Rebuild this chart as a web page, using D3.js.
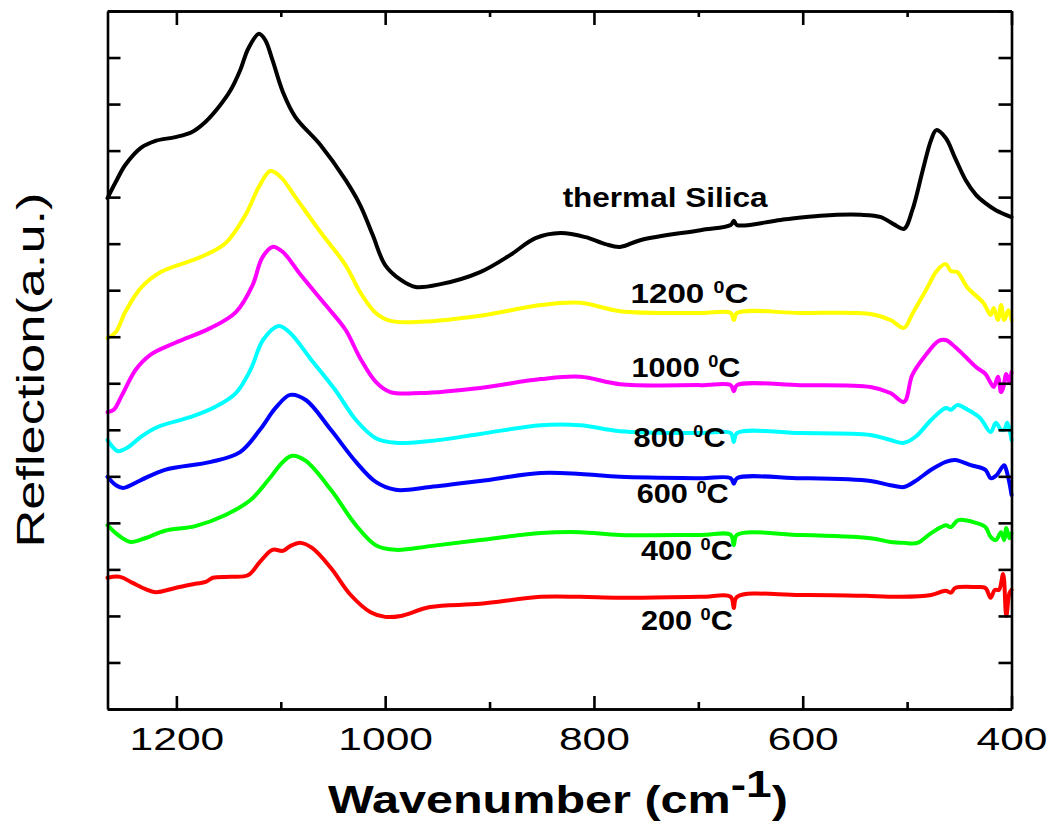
<!DOCTYPE html>
<html><head><meta charset="utf-8">
<script src="https://cdn.jsdelivr.net/npm/d3@7"></script>
<style>body{margin:0;background:#fff} svg{display:block} text{font-family:"Liberation Sans",Arial,sans-serif}</style>
</head><body>
<svg id="c" width="1050" height="828"></svg>
<script>
// ---------- data ----------
const xTicksMajor = [1200, 1000, 800, 600, 400];
const xTicksMinor = [1100, 900, 700, 500];
const yTicks = d3.range(0, 16);
const seriesLabels = ["thermal Silica", "1200", "1000", "800", "600", "400", "200"];
const seriesColors = ["#000000", "#ffff00", "#ff00ff", "#00ffff", "#0000ff", "#00ff00", "#ff0000"];

// [wavenumber (cm-1), reflection (a.u.)]
const thermalSilica = [[1266,10.98],[1258,11.33],[1249,11.69],[1234,12.06],[1220,12.21],[1201,12.29],[1185,12.40],[1172,12.62],[1160,12.92],[1148,13.30],[1139,13.72],[1131,14.20],[1121,14.51],[1115,14.38],[1108,13.95],[1098,13.26],[1086,12.72],[1062,12.12],[1038,11.37],[1024,10.83],[1012,10.19],[1000,9.54],[985,9.22],[971,9.07],[947,9.13],[909,9.39],[880,9.76],[856,10.12],[832,10.23],[808,10.14],[789,9.99],[775,9.93],[755,10.08],[698,10.29],[669,10.40],[666,10.49],[663,10.40],[621,10.51],[583,10.60],[544,10.62],[525,10.57],[513,10.42],[503,10.32],[495,10.72],[485,11.58],[477,12.23],[472,12.44],[463,12.27],[454,11.84],[444,11.37],[434,11.05],[425,10.87],[415,10.72],[400,10.57]];
const t1200 = [[1266,7.97],[1258,8.10],[1249,8.53],[1234,9.05],[1215,9.39],[1177,9.71],[1153,10.01],[1134,10.61],[1121,11.22],[1110,11.56],[1100,11.43],[1086,11.00],[1062,10.25],[1038,9.54],[1024,8.96],[1009,8.51],[995,8.34],[966,8.32],[909,8.45],[851,8.68],[813,8.73],[775,8.55],[698,8.51],[669,8.51],[666,8.36],[663,8.51],[602,8.51],[535,8.49],[516,8.36],[503,8.19],[495,8.49],[482,9.00],[471,9.43],[463,9.56],[458,9.41],[452,9.39],[442,9.05],[427,8.73],[420,8.47],[417,8.62],[413,8.36],[410,8.68],[407,8.36],[403,8.57],[400,8.36]];
const t1000 = [[1266,6.38],[1260,6.43],[1252,6.75],[1239,7.29],[1225,7.61],[1201,7.87],[1167,8.19],[1143,8.53],[1127,9.11],[1118,9.69],[1108,9.93],[1098,9.82],[1081,9.33],[1057,8.68],[1038,8.15],[1024,7.54],[1009,7.03],[995,6.81],[966,6.79],[909,6.90],[851,7.09],[813,7.14],[775,6.98],[698,6.96],[669,6.96],[666,6.83],[663,6.96],[602,6.96],[535,6.92],[516,6.79],[503,6.60],[495,7.18],[482,7.61],[470,7.91],[463,7.93],[454,7.78],[444,7.57],[434,7.35],[425,7.20],[420,7.01],[417,6.92],[413,7.14],[410,6.81],[408,6.90],[405,7.20],[402,7.01],[400,7.24]];
const t800 = [[1266,5.78],[1261,5.63],[1256,5.54],[1246,5.63],[1234,5.85],[1218,6.06],[1187,6.27],[1163,6.49],[1143,6.79],[1129,7.29],[1117,7.93],[1102,8.23],[1091,8.08],[1072,7.54],[1048,6.86],[1028,6.21],[1009,5.82],[990,5.72],[957,5.76],[909,5.91],[851,6.10],[813,6.10],[775,5.97],[698,5.93],[669,5.93],[666,5.74],[663,5.93],[602,5.93],[535,5.89],[516,5.78],[503,5.72],[492,5.85],[477,6.21],[463,6.47],[458,6.43],[452,6.53],[442,6.43],[430,6.25],[420,5.95],[415,6.15],[410,6.00],[407,6.00],[404,6.15],[400,5.78]];
const t600 = [[1266,4.99],[1258,4.81],[1251,4.75],[1234,4.92],[1211,5.14],[1167,5.31],[1139,5.52],[1120,6.00],[1105,6.47],[1091,6.75],[1076,6.64],[1052,6.00],[1028,5.31],[1009,4.88],[990,4.71],[957,4.77],[909,4.90],[851,5.07],[813,5.05],[775,4.99],[698,4.96],[669,4.96],[666,4.84],[663,4.96],[602,4.96],[535,4.90],[516,4.81],[503,4.77],[492,4.90],[477,5.14],[463,5.31],[454,5.35],[439,5.24],[425,5.14],[420,4.96],[415,5.01],[407,5.24],[405,5.14],[402,4.86],[400,4.60]];
const t400 = [[1266,3.95],[1256,3.74],[1244,3.59],[1230,3.67],[1211,3.83],[1182,3.93],[1153,4.17],[1129,4.49],[1112,4.92],[1098,5.31],[1089,5.44],[1076,5.33],[1052,4.71],[1028,3.95],[1009,3.52],[990,3.42],[957,3.50],[909,3.63],[851,3.78],[813,3.80],[775,3.74],[698,3.74],[669,3.74],[666,3.52],[663,3.74],[602,3.74],[535,3.67],[516,3.59],[503,3.57],[490,3.57],[477,3.78],[463,3.95],[458,3.91],[451,4.06],[434,4.00],[425,3.91],[420,3.70],[415,3.63],[410,3.80],[407,3.63],[405,3.89],[402,3.67],[400,3.78]];
const t200 = [[1266,2.82],[1254,2.84],[1242,2.71],[1230,2.58],[1220,2.51],[1201,2.60],[1182,2.69],[1172,2.73],[1165,2.82],[1148,2.84],[1131,2.88],[1120,3.16],[1108,3.42],[1098,3.40],[1091,3.50],[1081,3.57],[1070,3.46],[1052,3.03],[1033,2.45],[1014,2.08],[1000,1.98],[985,2.00],[957,2.19],[909,2.26],[851,2.41],[813,2.41],[775,2.39],[698,2.41],[669,2.41],[666,2.17],[663,2.41],[602,2.45],[535,2.43],[506,2.41],[477,2.45],[463,2.54],[458,2.50],[454,2.60],[434,2.62],[425,2.60],[420,2.39],[416,2.56],[412,2.56],[408,2.90],[405,2.00],[402,2.49],[400,2.56]];
const allSeries = [thermalSilica, t1200, t1000, t800, t600, t400, t200];
// label anchors in data coords [wavenumber of left edge, value at baseline]
const labelAnchors = [[830,10.79],[765,8.72],[764,7.14],[762,5.63],[759,4.43],[755,3.20],[755,1.70]];

// ---------- layout ----------
const svg = d3.select("#c");
const L = 107.5, R = 1011.5, T = 11, B = 709;
const x = d3.scaleLinear().domain([1266, 400]).range([L, R]);
const y = d3.scaleLinear().domain([0, 15]).range([B, T]);
const SX = 1.33; // horizontal stretch of the reference typography

function styleAxis(g) {
  g.select(".domain").attr("stroke", "#000").attr("stroke-width", 2.6);
  g.selectAll(".tick line").attr("stroke", "#000").attr("stroke-width", 2.6);
}

// curves
const line = d3.line().x(d => x(d[0])).y(d => y(d[1])).curve(d3.curveCatmullRom.alpha(0.5));
svg.append("g").selectAll("path").data(allSeries).join("path")
  .attr("d", line).attr("fill", "none")
  .attr("stroke", (d, i) => seriesColors[i]).attr("stroke-width", 4)
  .attr("stroke-linejoin", "round").attr("stroke-linecap", "round");

// axes
const gb = svg.append("g").attr("transform", `translate(0,${B})`)
  .call(d3.axisBottom(x).tickValues(xTicksMajor).tickSize(-13).tickSizeOuter(0).tickPadding(18).tickFormat(d3.format("d")));
gb.selectAll("text").attr("font-size", 32).attr("fill", "#000")
  .attr("font-family", '"Liberation Sans",Arial,sans-serif').attr("transform", `scale(${SX},1)`);
styleAxis(gb);
const gbm = svg.append("g").attr("transform", `translate(0,${B})`)
  .call(d3.axisBottom(x).tickValues(xTicksMinor).tickSize(-7).tickSizeOuter(0).tickFormat(""));
styleAxis(gbm);
const gt = svg.append("g").attr("transform", `translate(0,${T})`)
  .call(d3.axisTop(x).tickValues(xTicksMajor).tickSize(-14).tickSizeOuter(0).tickFormat(""));
styleAxis(gt);
const gtm = svg.append("g").attr("transform", `translate(0,${T})`)
  .call(d3.axisTop(x).tickValues(xTicksMinor).tickSize(-6).tickSizeOuter(0).tickFormat(""));
styleAxis(gtm);
const gl = svg.append("g").attr("transform", `translate(${L},0)`)
  .call(d3.axisLeft(y).tickValues(yTicks).tickSize(-13).tickSizeOuter(0).tickFormat(""));
styleAxis(gl);
const gr = svg.append("g").attr("transform", `translate(${R},0)`)
  .call(d3.axisRight(y).tickValues(yTicks).tickSize(-13).tickSizeOuter(0).tickFormat(""));
styleAxis(gr);

// fit helper: place text group with left edge at (lx, base) and stretch to width w
function fitH(t, lx, base, w) {
  const bb = t.node().getBBox();
  const k = w / bb.width;
  t.attr("transform", `translate(${lx},${base}) scale(${k},1) translate(${-bb.x},0)`);
}

// x title
const xt = svg.append("text").attr("font-weight", "bold").attr("font-size", 39).attr("fill", "#000");
xt.append("tspan").text("Wavenumber (cm");
xt.append("tspan").attr("font-size", 37).attr("dy", -16).text("-1");
xt.append("tspan").attr("dy", 16).text(")");
fitH(xt, 328, 813, 460);

// y title
const yt = svg.append("text").attr("font-size", 39).attr("fill", "#000").attr("text-anchor", "middle")
  .text("Reflection(a.u.)");
{
  const bb = yt.node().getBBox();
  const k = 355 / bb.width;
  yt.attr("transform", `translate(44,370) rotate(-90) scale(${k},1)`);
}

// series labels
const labelWidths = [206, 118, 109, 92, 92, 92, 92];
seriesLabels.forEach((lab, i) => {
  const t = svg.append("text").attr("font-weight", "bold").attr("font-size", 27).attr("fill", "#000");
  if (i === 0) {
    t.text(lab);
  } else {
    t.append("tspan").text(lab + " ");
    t.append("tspan").attr("font-size", 16).attr("dy", -10).text("0");
    t.append("tspan").attr("dy", 10).text("C");
  }
  fitH(t, x(labelAnchors[i][0]), y(labelAnchors[i][1]), labelWidths[i]);
});
</script>
</body></html>
